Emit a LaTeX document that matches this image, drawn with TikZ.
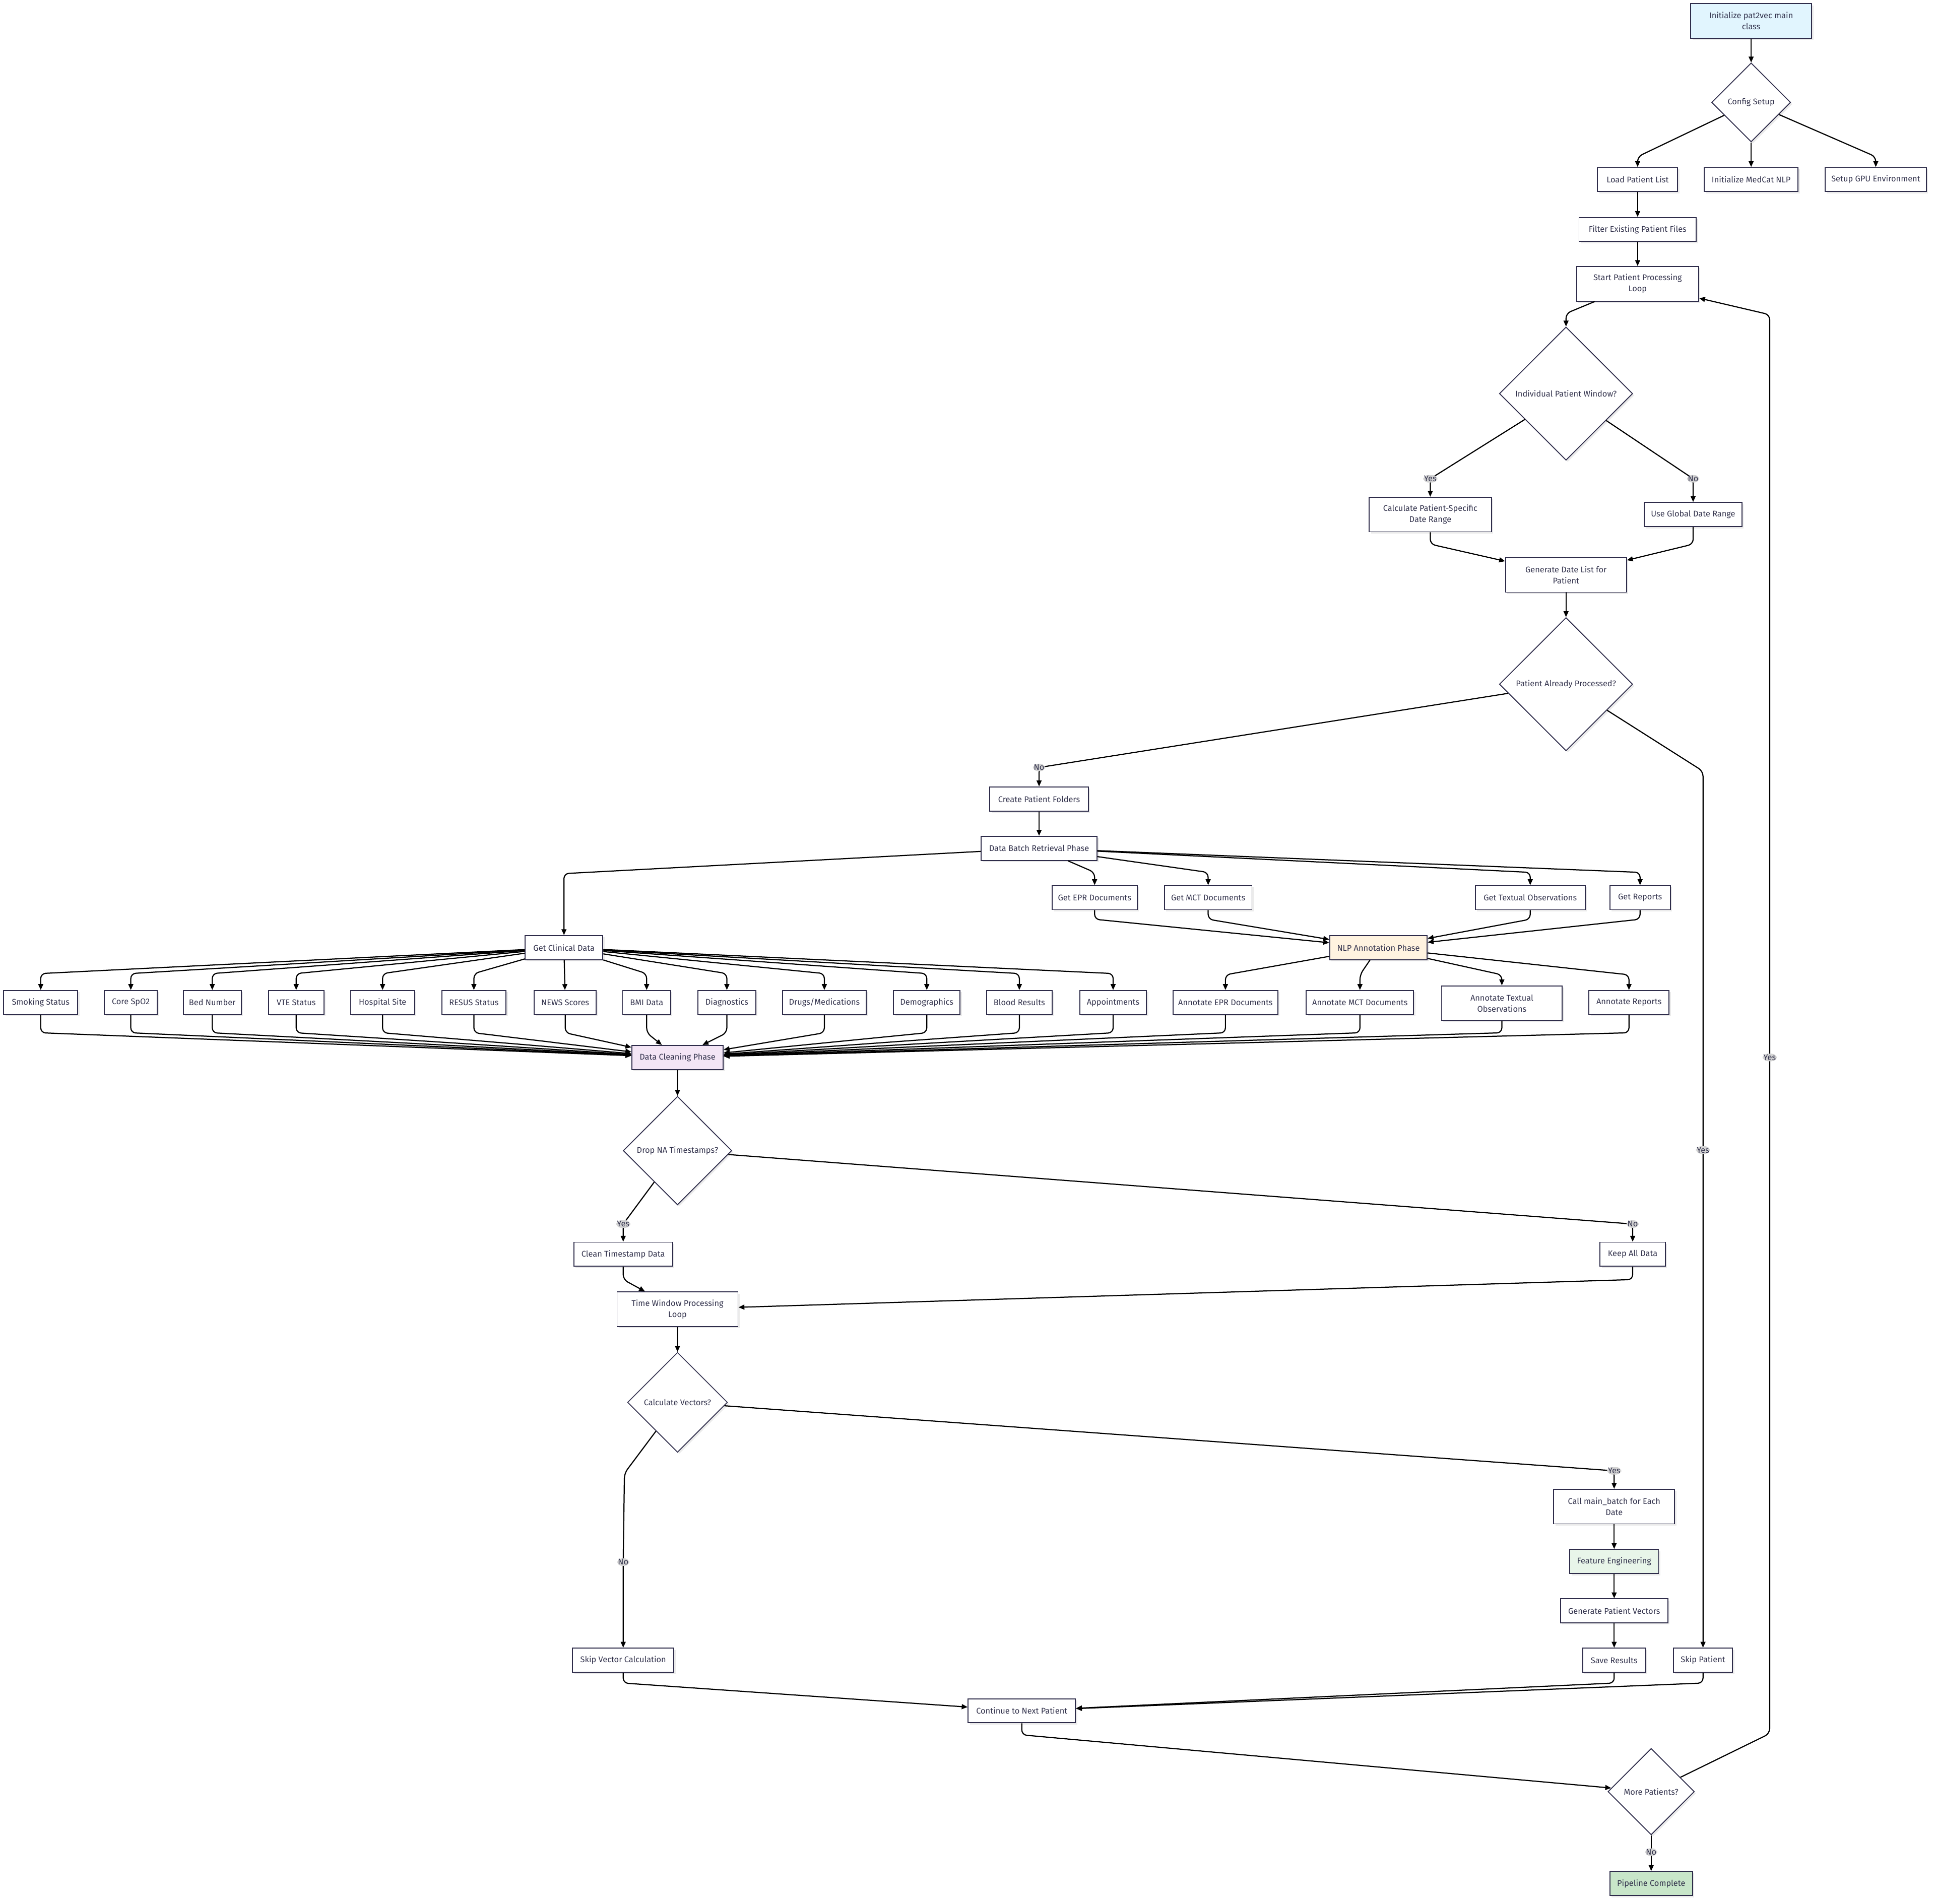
\documentclass[tikz,border=0pt]{standalone}
\usepackage{fontspec}
\newfontfamily\chartfont{Fira Sans}
\usetikzlibrary{arrows.meta,positioning,shapes.geometric,shadows}
\definecolor{inkline}{HTML}{2E2C4A}
\definecolor{inktext}{HTML}{33334D}
\definecolor{tagbg}{HTML}{D3D3D3}
\definecolor{startblue}{HTML}{E1F5FE}
\definecolor{nlporange}{HTML}{FFF3E0}
\definecolor{cleanpurple}{HTML}{F3E5F5}
\definecolor{featgreen}{HTML}{E8F5E9}
\definecolor{donegreen}{HTML}{C8E6C9}

\begin{document}
\begin{tikzpicture}[x=0.05cm, y=-0.05cm,
  procbox/.style={rectangle, draw=inkline, line width=1.1pt, fill=white, text=inktext,
    font=\chartfont\fontsize{9.5}{12.8}\selectfont, minimum width=#1, minimum height=0.975cm, inner sep=1pt,
    drop shadow={shadow xshift=0.07cm, shadow yshift=-0.07cm, fill=black, opacity=0.08}},
  wrapbox/.style={procbox=#1, minimum height=1.4cm, align=center},
  decision/.style={diamond, aspect=1, draw=inkline, line width=1pt, fill=white, text=inktext,
    font=\chartfont\fontsize{9.5}{12.8}\selectfont, minimum width=#1, minimum height=#1, inner sep=0pt,
    drop shadow={shadow xshift=0.07cm, shadow yshift=-0.07cm, fill=black, opacity=0.08}},
  flow/.style={-{Triangle[length=0.24cm, width=0.2cm]}, line width=1.3pt, rounded corners=0.2cm},
  answer/.style={fill=tagbg, text=inktext, font=\chartfont\fontsize{9.5}{12.8}\selectfont, inner sep=1pt}
]
  \useasboundingbox (0,0) rectangle (1568,1543);
  \fill[white] (0,0) rectangle (1568,1543);

  \node[wrapbox=4.9cm, fill=startblue] (init) at (1419,17) {Initialize pat2vec main\\class};
  \node[decision=3.2cm] (cfg) at (1419,83) {Config Setup};
  \node[procbox=3.25cm] (load) at (1327,145.5) {Load Patient List};
  \node[procbox=3.8cm] (medcat) at (1419,145.5) {Initialize MedCat NLP};
  \node[procbox=4.1cm] (gpu) at (1520,145.5) {Setup GPU Environment};
  \node[procbox=4.75cm] (filter) at (1327,186) {Filter Existing Patient Files};
  \node[wrapbox=4.95cm] (start) at (1327,230) {Start Patient Processing\\Loop};
  \node[decision=5.4cm] (indiv) at (1269,319) {Individual Patient Window?};
  \node[wrapbox=4.95cm] (calc) at (1159,417) {Calculate Patient-Specific\\Date Range};
  \node[procbox=3.95cm] (global) at (1372,417) {Use Global Date Range};
  \node[wrapbox=4.9cm] (dates) at (1269,466) {Generate Date List for\\Patient};
  \node[decision=5.4cm] (processed) at (1269,554.5) {Patient Already Processed?};
  \node[procbox=4cm] (folders) at (842,647.5) {Create Patient Folders};
  \node[procbox=4.7cm] (batch) at (842,687.5) {Data Batch Retrieval Phase};
  \node[procbox=3.45cm] (epr) at (887,727.5) {Get EPR Documents};
  \node[procbox=3.55cm] (mct) at (979,727.5) {Get MCT Documents};
  \node[procbox=4.45cm] (textual) at (1240,727.5) {Get Textual Observations};
  \node[procbox=2.45cm] (reports) at (1329,727.5) {Get Reports};
  \node[procbox=3.15cm] (clinical) at (457,768) {Get Clinical Data};
  \node[procbox=3.95cm, fill=nlporange] (nlp) at (1117,768) {NLP Annotation Phase};

  \node[procbox=3cm] (smoking) at (33,812.5) {Smoking Status};
  \node[procbox=2.15cm] (spo2) at (106,812.5) {Core SpO2};
  \node[procbox=2.35cm] (bed) at (172,812.5) {Bed Number};
  \node[procbox=2.25cm] (vte) at (240,812.5) {VTE Status};
  \node[procbox=2.6cm] (site) at (310,812.5) {Hospital Site};
  \node[procbox=2.6cm] (resus) at (384,812.5) {RESUS Status};
  \node[procbox=2.5cm] (news) at (458,812.5) {NEWS Scores};
  \node[procbox=1.95cm] (bmi) at (524,812.5) {BMI Data};
  \node[procbox=2.35cm] (diag) at (589,812.5) {Diagnostics};
  \node[procbox=3.4cm] (drugs) at (668,812.5) {Drugs/Medications};
  \node[procbox=2.7cm] (demog) at (751,812.5) {Demographics};
  \node[procbox=2.65cm] (blood) at (826,812.5) {Blood Results};
  \node[procbox=2.7cm] (appts) at (902,812.5) {Appointments};
  \node[procbox=4.25cm] (aepr) at (993,812.5) {Annotate EPR Documents};
  \node[procbox=4.35cm] (amct) at (1102,812.5) {Annotate MCT Documents};
  \node[wrapbox=4.9cm] (atext) at (1217,813) {Annotate Textual\\Observations};
  \node[procbox=3.25cm] (areports) at (1320,812.5) {Annotate Reports};

  \node[procbox=3.7cm, fill=cleanpurple] (cleaning) at (549,857) {Data Cleaning Phase};
  \node[decision=4.4cm] (dropna) at (549,932.5) {Drop NA Timestamps?};
  \node[procbox=4cm] (cleants) at (505,1016.5) {Clean Timestamp Data};
  \node[procbox=2.65cm] (keepall) at (1323,1016.5) {Keep All Data};
  \node[wrapbox=4.9cm] (window) at (549,1061) {Time Window Processing\\Loop};
  \node[decision=4.05cm] (calcvec) at (549,1136.5) {Calculate Vectors?};
  \node[wrapbox=4.9cm] (mainbatch) at (1308,1221) {Call main\_batch for Each\\Date};
  \node[procbox=3.6cm, fill=featgreen] (features) at (1308,1265.5) {Feature Engineering};
  \node[procbox=4.35cm] (vectors) at (1308,1305.5) {Generate Patient Vectors};
  \node[procbox=2.55cm] (save) at (1308,1345.5) {Save Results};
  \node[procbox=2.4cm] (skippat) at (1380,1345.5) {Skip Patient};
  \node[procbox=4.1cm] (skipvec) at (505,1345.5) {Skip Vector Calculation};
  \node[procbox=4.35cm] (nextpat) at (828,1386.5) {Continue to Next Patient};
  \node[decision=3.5cm] (more) at (1338,1452) {More Patients?};
  \node[procbox=3.35cm, fill=donegreen] (finish) at (1338,1526.5) {Pipeline Complete};

  \draw[flow] (init) -- (cfg);
  \draw[flow] (cfg) -- (1327,127) -- (load);
  \draw[flow] (cfg) -- (medcat);
  \draw[flow] (cfg) -- (1520,127) -- (gpu);
  \draw[flow] (load) -- (filter);
  \draw[flow] (filter) -- (start);
  \draw[flow] (start) -- (1269,254) -- (indiv);
  \draw[flow] (indiv) -- (1159,388) node[answer] {Yes} -- (calc);
  \draw[flow] (indiv) -- (1372,388) node[answer] {No} -- (global);
  \draw[flow] (calc) -- (1159,441) -- (dates);
  \draw[flow] (global) -- (1372,441) -- (dates);
  \draw[flow] (dates) -- (processed);
  \draw[flow] (processed) -- (842,622) node[answer] {No} -- (folders);
  \draw[flow] (processed) -- (1380,625) -- (1380,932) node[answer] {Yes} -- (skippat);
  \draw[flow] (folders) -- (batch);
  \draw[flow] (batch) -- (457,708) -- (clinical);
  \draw[flow] (batch) -- (887,707) -- (epr);
  \draw[flow] (batch) -- (979,707) -- (mct);
  \draw[flow] (batch) -- (1240,707) -- (textual);
  \draw[flow] (batch) -- (1329,707) -- (reports);
  \draw[flow] (epr) -- (887,745) -- (nlp);
  \draw[flow] (mct) -- (979,745) -- (nlp);
  \draw[flow] (textual) -- (1240,745) -- (nlp);
  \draw[flow] (reports) -- (1329,745) -- (nlp);

  \draw[flow] (clinical) -- (33,789) -- (smoking);
  \draw[flow] (clinical) -- (106,789) -- (spo2);
  \draw[flow] (clinical) -- (172,789) -- (bed);
  \draw[flow] (clinical) -- (240,789) -- (vte);
  \draw[flow] (clinical) -- (310,789) -- (site);
  \draw[flow] (clinical) -- (384,789) -- (resus);
  \draw[flow] (clinical) -- (news);
  \draw[flow] (clinical) -- (524,789) -- (bmi);
  \draw[flow] (clinical) -- (589,789) -- (diag);
  \draw[flow] (clinical) -- (668,789) -- (drugs);
  \draw[flow] (clinical) -- (751,789) -- (demog);
  \draw[flow] (clinical) -- (826,789) -- (blood);
  \draw[flow] (clinical) -- (902,789) -- (appts);
  \draw[flow] (nlp) -- (993,790) -- (aepr);
  \draw[flow] (nlp) -- (1102,790) -- (amct);
  \draw[flow] (nlp) -- (1217,790) -- (atext);
  \draw[flow] (nlp) -- (1320,790) -- (areports);

  \draw[flow] (smoking) -- (33,837) -- (cleaning);
  \draw[flow] (spo2) -- (106,837) -- (cleaning);
  \draw[flow] (bed) -- (172,837) -- (cleaning);
  \draw[flow] (vte) -- (240,837) -- (cleaning);
  \draw[flow] (site) -- (310,837) -- (cleaning);
  \draw[flow] (resus) -- (384,837) -- (cleaning);
  \draw[flow] (news) -- (458,837) -- (cleaning);
  \draw[flow] (bmi) -- (524,837) -- (cleaning);
  \draw[flow] (diag) -- (589,837) -- (cleaning);
  \draw[flow] (drugs) -- (668,837) -- (cleaning);
  \draw[flow] (demog) -- (751,837) -- (cleaning);
  \draw[flow] (blood) -- (826,837) -- (cleaning);
  \draw[flow] (appts) -- (902,837) -- (cleaning);
  \draw[flow] (aepr) -- (993,837) -- (cleaning);
  \draw[flow] (amct) -- (1102,837) -- (cleaning);
  \draw[flow] (atext) -- (1217,837) -- (cleaning);
  \draw[flow] (areports) -- (1320,837) -- (cleaning);

  \draw[flow] (cleaning) -- (dropna);
  \draw[flow] (dropna) -- (505,992) node[answer] {Yes} -- (cleants);
  \draw[flow] (dropna) -- (1323,992) node[answer] {No} -- (keepall);
  \draw[flow] (cleants) -- (505,1037) -- (window);
  \draw[flow] (keepall) -- (1323,1037) -- (window);
  \draw[flow] (window) -- (calcvec);
  \draw[flow] (calcvec) -- (1308,1192) node[answer] {Yes} -- (mainbatch);
  \draw[flow] (calcvec) -- (506,1194) -- (505,1266) node[answer] {No} -- (skipvec);
  \draw[flow] (mainbatch) -- (features);
  \draw[flow] (features) -- (vectors);
  \draw[flow] (vectors) -- (save);
  \draw[flow] (save) -- (1308,1364) -- (nextpat);
  \draw[flow] (skippat) -- (1380,1364) -- (nextpat);
  \draw[flow] (skipvec) -- (505,1364) -- (nextpat);
  \draw[flow] (nextpat) -- (828,1406) -- (more);
  \draw[flow] (more) -- (1434,1405) -- (1434,857) node[answer] {Yes} -- (1434,255) -- (start);
  \draw[flow] (more) -- (1338,1501) node[answer] {No} -- (finish);
\end{tikzpicture}
\end{document}
